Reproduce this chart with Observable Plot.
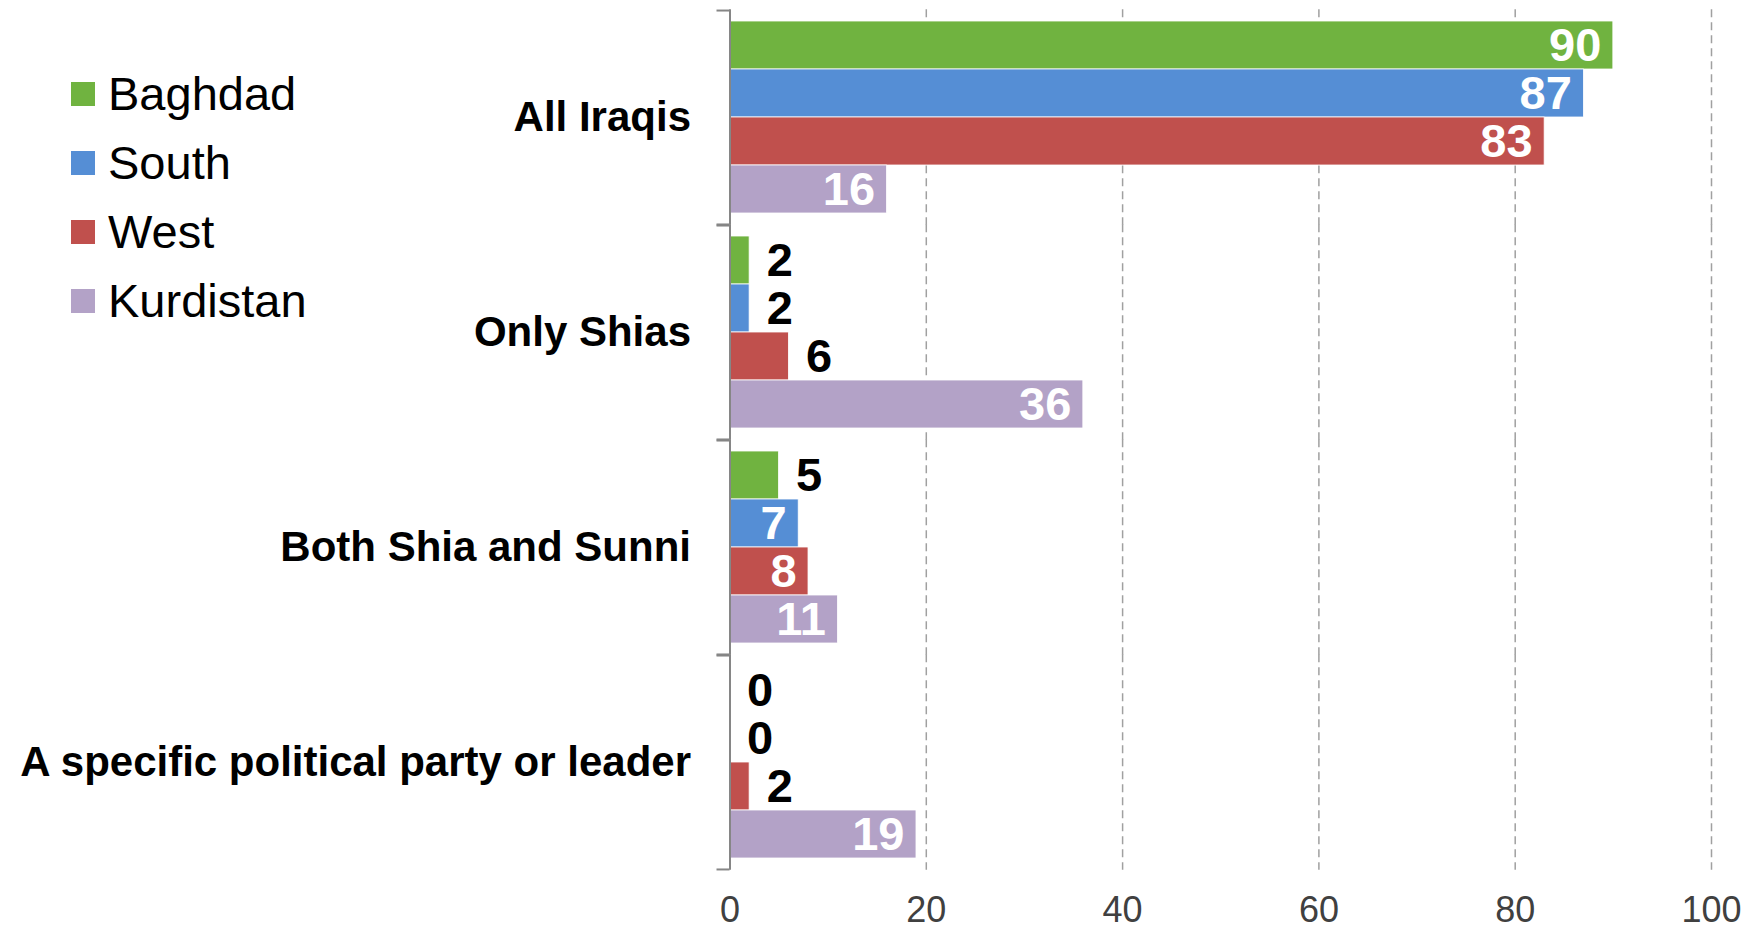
<!DOCTYPE html>
<html>
<head>
<meta charset="utf-8">
<script src="https://cdn.jsdelivr.net/npm/d3@7"></script>
<script src="https://cdn.jsdelivr.net/npm/@observablehq/plot@0.6"></script>
<style>
  html, body { margin: 0; padding: 0; background: #fff; }
  #wrap { position: relative; width: 1754px; height: 933px; font-family: "Liberation Sans", Arial, sans-serif; }
  #legend { position: absolute; left: 71px; top: 59px; }
  .item { display: flex; align-items: center; height: 69px; font-size: 47px; color: #000; }
  .sw { width: 24px; height: 24px; margin-right: 13px; }
</style>
</head>
<body>
<div id="wrap"><div id="legend"></div></div>
<script>
const categories = ["All Iraqis", "Only Shias", "Both Shia and Sunni", "A specific political party or leader"];
const regions = ["Baghdad", "South", "West", "Kurdistan"];
const baghdad = [90, 2, 5, 0];
const south = [87, 2, 7, 0];
const west = [83, 6, 8, 2];
const kurdistan = [16, 36, 11, 19];
const colors = ["#70B340", "#558ED5", "#C0504D", "#B3A2C7"];
const xTicks = [0, 20, 40, 60, 80, 100];

const series = [baghdad, south, west, kurdistan];
const data = [];
categories.forEach((c, i) => regions.forEach((r, j) => data.push({category: c, region: r, value: series[j][i]})));

const gapHalf = 10.76;
const tickUnits = 13 / 9.815;

const chart = Plot.plot({
  width: 1754,
  height: 933,
  marginTop: 9,
  marginBottom: 63,
  marginLeft: 729.5,
  marginRight: 43,
  style: {fontFamily: "Liberation Sans, Arial, sans-serif", background: "white"},
  x: {domain: [0, 100], axis: null},
  y: {domain: regions, padding: 0, axis: null},
  fy: {domain: categories, paddingInner: 0.1, paddingOuter: 0.05, axis: null},
  color: {domain: regions, range: colors},
  marks: [
    Plot.ruleX(xTicks.filter(d => d > 0), {stroke: "#a0a0a0", strokeWidth: 1.5, strokeDasharray: "8,5", insetTop: -gapHalf, insetBottom: -gapHalf}),
    Plot.barX(data, {x: "value", y: "region", fy: "category", fill: "region", stroke: "white", strokeWidth: 0.8}),
    Plot.ruleX([0], {stroke: "#868686", strokeWidth: 2, insetTop: -gapHalf, insetBottom: -gapHalf}),
    Plot.ruleY([regions[0]], {x1: -tickUnits, x2: 0, stroke: "#868686", strokeWidth: 2, dy: -(48.4 / 2 + gapHalf), clip: false}),
    Plot.ruleY([regions[3]], {x1: -tickUnits, x2: 0, stroke: "#868686", strokeWidth: 2, dy: (48.4 / 2 + gapHalf), clip: false}),
    Plot.text(data.filter(d => d.value >= 7), {x: "value", y: "region", fy: "category", text: d => String(d.value), textAnchor: "end", dx: -12, fill: "white", fontWeight: "bold", fontSize: 47}),
    Plot.text(data.filter(d => d.value < 7), {x: "value", y: "region", fy: "category", text: d => String(d.value), textAnchor: "start", dx: 17, fill: "black", fontWeight: "bold", fontSize: 47}),
    Plot.axisFy({anchor: "left", tickSize: 0, tickPadding: 39, fontSize: 42, fontWeight: "bold", label: null, color: "black"}),
    Plot.axisX({anchor: "bottom", ticks: xTicks, tickSize: 0, tickPadding: 37, fontSize: 36, label: null, color: "#404040"})
  ]
});
document.getElementById("wrap").prepend(chart);

const legend = document.getElementById("legend");
regions.forEach((r, j) => {
  const item = document.createElement("div");
  item.className = "item";
  const sw = document.createElement("span");
  sw.className = "sw";
  sw.style.background = colors[j];
  const t = document.createElement("span");
  t.textContent = r;
  item.append(sw, t);
  legend.append(item);
});
</script>
</body>
</html>
